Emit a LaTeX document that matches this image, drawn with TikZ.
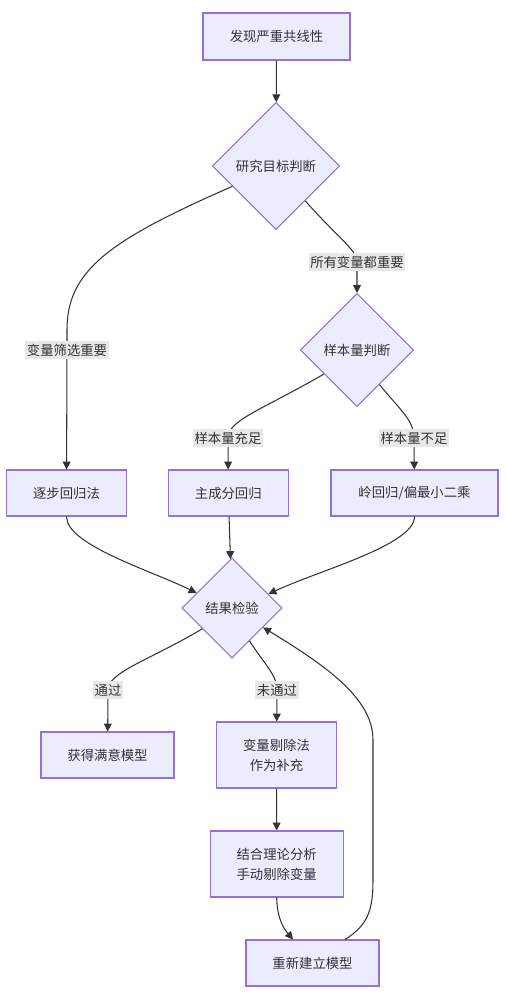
\documentclass[tikz,border=0pt]{standalone}
\usepackage{fontspec}
\setmainfont{Noto Sans CJK SC}
\usetikzlibrary{shapes.geometric,arrows.meta}
\definecolor{boxfill}{HTML}{ECECFF}
\definecolor{boxline}{HTML}{9370DB}
\definecolor{ink}{HTML}{333333}
\definecolor{lblfill}{HTML}{E8E8E8}

\begin{document}
\begin{tikzpicture}[x=0.02cm,y=-0.02cm,
  box/.style={draw=boxline,fill=boxfill,line width=0.6pt,text=ink,inner sep=0pt,
    minimum height=0.92cm,align=center,font=\fontsize{7.6}{11.4}\selectfont},
  choice/.style={box,shape=diamond,aspect=1},
  lbl/.style={fill=lblfill,text=ink,inner xsep=1pt,inner ysep=1.5pt,font=\fontsize{7.6}{9}\selectfont},
  link/.style={draw=ink,line width=0.6pt,-{Triangle[length=4.5pt,width=4.5pt]}}]
\useasboundingbox (0,0) rectangle (505,1000);

\node[box,minimum width=2.94cm,minimum height=0.94cm] (S) at (276.5,36.5) {发现严重共线性};
\node[choice,minimum width=2.54cm,minimum height=2.54cm] (D1) at (276,166) {研究目标判断};
\node[choice,minimum width=2.26cm,minimum height=2.26cm] (D2) at (357,350) {样本量判断};

\node[box,minimum width=2.4cm] (Z1) at (66.5,493) {逐步回归法};
\node[box,minimum width=2.4cm] (Z2) at (228.3,493) {主成分回归};
\node[box,minimum width=3.34cm] (Z3) at (414.5,493) {岭回归/偏最小二乘};

\node[choice,minimum width=2cm,minimum height=2cm] (D3) at (232,608) {结果检验};

\node[box,minimum width=2.66cm] (M1) at (107.5,755) {获得满意模型};
\node[box,minimum width=2.4cm,minimum height=1.32cm] (M2) at (276.5,755) {变量剔除法\\作为补充};
\node[box,minimum width=2.66cm,minimum height=1.32cm] (M3) at (276.7,864) {结合理论分析\\手动剔除变量};
\node[box,minimum width=2.66cm] (M4) at (312.5,963) {重新建立模型};

\draw[link] (S) -- (D1);
\draw[link] (D1.205) .. controls (110,240) and (67,270) .. (67,330) -- (67,350) node[lbl] {变量筛选重要} -- (Z1);
\draw[link] (D1.-50) .. controls (340,240) and (357,250) .. (357,262) node[lbl] {所有变量都重要} -- (D2);
\draw[link] (D2.216) .. controls (262,410) and (228,420) .. (228,438) node[lbl] {样本量充足} -- (Z2);
\draw[link] (D2.-57) .. controls (400,410) and (414,420) .. (414,438) node[lbl] {样本量不足} -- (Z3);

\draw[link] (Z1.south) .. controls (66.5,545) and (150,570) .. (D3.157);
\draw[link] (Z2) -- (D3);
\draw[link] (Z3.south) .. controls (414.5,545) and (320,570) .. (D3.21);

\draw[link] (D3.215) .. controls (150,660) and (108,672) .. (108,690) node[lbl] {通过} -- (M1);
\draw[link] (D3.-62) .. controls (265,665) and (277,675) .. (277,690) node[lbl] {未通过} -- (M2);
\draw[link] (M2) -- (M3);
\draw[link] (M3.south) .. controls (277,920) and (285,930) .. ([xshift=-0.39cm]M4.north);
\draw[link] ([xshift=0.65cm]M4.north) .. controls (368,925) and (373,910) .. (373,880) -- (373,740)
  .. controls (373,700) and (330,668) .. (D3.-32);

\end{tikzpicture}
\end{document}
